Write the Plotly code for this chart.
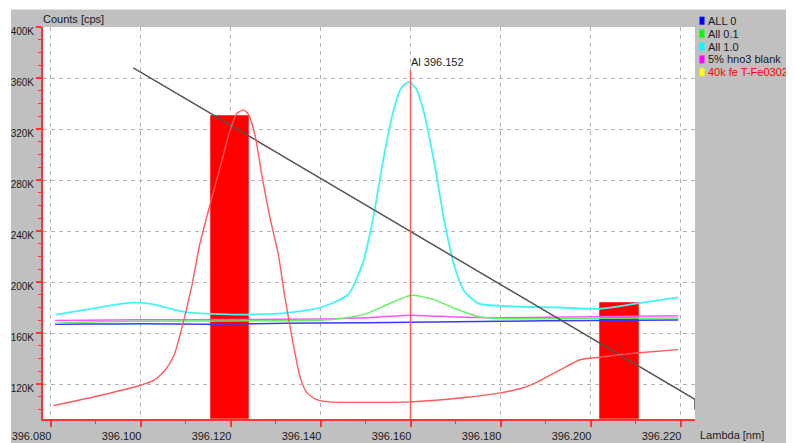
import plotly.graph_objects as go

# ---------------- data ----------------
X_ALL0 = [396.0810, 396.0900, 396.1000, 396.1150, 396.1250, 396.1400, 396.1600, 396.1800, 396.2000, 396.2195]
Y_ALL0 = [166.8, 167.0, 167.2, 166.8, 167.3, 167.8, 168.4, 169.2, 169.8, 170.2]

X_ALL01 = [396.0810, 396.0900, 396.1000, 396.1200, 396.1400, 396.1450, 396.1500, 396.1550, 396.1600,
           396.1650, 396.1700, 396.1750, 396.1800, 396.2000, 396.2195]
Y_ALL01 = [167.5, 168.8, 169.2, 169.5, 170.0, 171.5, 175.0, 182.5, 189.5, 186.5, 179.0, 173.0, 171.3, 171.5, 171.8]

X_ALL10 = [396.0812, 396.0890, 396.0980, 396.1020, 396.1100, 396.1150, 396.1244, 396.1330, 396.1400,
           396.1461, 396.1494, 396.1517, 396.1539, 396.1561, 396.1579, 396.1596, 396.1612, 396.1630,
           396.1652, 396.1674, 396.1697, 396.1719, 396.1752, 396.1820, 396.1932, 396.2020, 396.2108, 396.2195]
Y_ALL10 = [174.4, 179.0, 183.8, 183.0, 176.4, 175.2, 174.5, 176.0, 180.0,
           190.0, 215.0, 250.0, 295.0, 333.0, 352.0, 357.0, 352.0, 333.0,
           295.0, 250.0, 213.0, 193.0, 183.0, 181.0, 180.0, 179.0, 183.5, 188.0]

X_BLANK = [396.0810, 396.1000, 396.1200, 396.1400, 396.1500, 396.1600, 396.1700, 396.1800, 396.2000, 396.2195]
Y_BLANK = [169.8, 170.3, 170.5, 171.0, 172.0, 174.0, 172.5, 172.0, 172.8, 173.5]

X_FE = [396.0806, 396.0910, 396.1000, 396.1030, 396.1055, 396.1075, 396.1092, 396.1114, 396.1132, 396.1157,
        396.1177, 396.1199, 396.1214, 396.1228, 396.1239, 396.1254, 396.1269, 396.1288, 396.1306, 396.1320,
        396.1340, 396.1355, 396.1370, 396.1390, 396.1420, 396.1600, 396.1710, 396.1800, 396.1866, 396.1932,
        396.1977, 396.2021, 396.2066, 396.2108, 396.2195]
Y_FE = [103, 111, 119, 123, 131, 143, 164, 197, 230, 264,
        290, 319, 332, 335, 332, 316, 285, 250, 222, 190,
        150, 125, 113, 108, 106, 106, 109, 113, 119, 131,
        139, 141, 143, 144.5, 147]

X_BACKGROUND = [396.0984, 396.2232, 396.2232]
Y_BACKGROUND = [368, 108, 100]

PEAK_LINE_X = 396.160
PEAK_LINE_TOP = 366
PEAK_LABEL = "Al 396.152"

BAR_START = [396.1157, 396.2022]
BAR_END = [396.1242, 396.2108]
BAR_TOP = [330.4, 183.5]

SERIES_NAMES = ["ALL 0", "All 0.1", "All 1.0", "5% hno3 blank", "40k fe T-Fe0302"]
LEGEND_SWATCH = ["#0000ff", "#00ff00", "#00ffff", "#ff00ff", "#ffff00"]
LEGEND_TEXT_COLOR = ["#1a1a1a", "#1a1a1a", "#1a1a1a", "#1a1a1a", "#ff0000"]

X_TICKS = [396.080, 396.100, 396.120, 396.140, 396.160, 396.180, 396.200, 396.220]
X_TICK_LABELS = ["396.080", "396.100", "396.120", "396.140", "396.160", "396.180", "396.200", "396.220"]
Y_TICKS = [120, 160, 200, 240, 280, 320, 360, 400]
Y_TICK_LABELS = ["120K", "160K", "200K", "240K", "280K", "320K", "360K", "400K"]

X_RANGE = [396.07833, 396.22322]
Y_MIN, Y_MAX = 92.55, 400

# ---------------- figure ----------------
# the page body has an 8px margin, so the figure is drawn 8px smaller and
# every measured page-pixel position is shifted by that offset
OFF = 8
W, H = 794 - OFF, 443 - OFF
ML, MR, MT, MB = 43 - OFF, 99, 27 - OFF, 24
PW, PH = W - ML - MR, H - MT - MB
FONT = "Liberation Sans, Arial, sans-serif"
GRAY = "#c0c0c0"
AXRED = "#ff3333"


def px(x):
    return (x - OFF - ML) / PW


def py(y):
    return (H - MB - (y - OFF)) / PH


fig = go.Figure()

fig.add_trace(go.Bar(
    x=[(a + b) / 2 for a, b in zip(BAR_START, BAR_END)],
    width=[b - a for a, b in zip(BAR_START, BAR_END)],
    y=[t - Y_MIN for t in BAR_TOP], base=Y_MIN,
    marker=dict(color="#ff0000", line=dict(color="#ff4040", width=1)),
    showlegend=False, hoverinfo="skip"))

line_series = [
    (X_ALL0, Y_ALL0, "#3a3aff", 1.5),
    (X_BLANK, Y_BLANK, "#ff55ff", 1.5),
    (X_ALL01, Y_ALL01, "#66ee66", 1.5),
    (X_ALL10, Y_ALL10, "#44f4f4", 1.8),
]
for xs, ys, c, w in line_series:
    fig.add_trace(go.Scatter(x=xs, y=ys, mode="lines",
                             line=dict(color=c, width=w, shape="spline", smoothing=0.6),
                             showlegend=False, hoverinfo="skip"))

fig.add_trace(go.Scatter(x=X_BACKGROUND, y=Y_BACKGROUND, mode="lines",
                         line=dict(color="#555555", width=1.5), showlegend=False, hoverinfo="skip"))

fig.add_trace(go.Scatter(x=X_FE, y=Y_FE, mode="lines",
                         line=dict(color="#ff5a5a", width=1.4, shape="spline", smoothing=0.6),
                         showlegend=False, hoverinfo="skip"))

fig.add_trace(go.Scatter(x=[PEAK_LINE_X, PEAK_LINE_X], y=[Y_MIN, PEAK_LINE_TOP], mode="lines",
                         line=dict(color="#ff5a5a", width=1.5), showlegend=False, hoverinfo="skip"))

annotations = [
    dict(x=PEAK_LINE_X, y=PEAK_LINE_TOP, xref="x", yref="y", text=PEAK_LABEL, showarrow=False,
         xanchor="left", yanchor="bottom", xshift=-1.5, yshift=0,
         font=dict(family=FONT, size=11, color="#1a1a1a")),
    dict(x=px(41), y=py(19), xref="paper", yref="paper", text="Counts [cps]", showarrow=False,
         xanchor="left", yanchor="middle", font=dict(family=FONT, size=11, color="#1a1a1a")),
    dict(x=px(698), y=py(435), xref="paper", yref="paper", text="Lambda [nm]", showarrow=False,
         xanchor="left", yanchor="middle", font=dict(family=FONT, size=11, color="#1a1a1a")),
]

shapes = [
    # remaining white border strips of the screenshot
    dict(type="rect", xref="paper", yref="paper", x0=px(OFF), x1=px(794), y0=py(9.5), y1=py(OFF),
         fillcolor="white", line=dict(width=0), layer="above"),
    dict(type="rect", xref="paper", yref="paper", x0=px(OFF), x1=px(11), y0=py(443), y1=py(OFF),
         fillcolor="white", line=dict(width=0), layer="above"),
]

for i, (name, sw, tc) in enumerate(zip(SERIES_NAMES, LEGEND_SWATCH, LEGEND_TEXT_COLOR)):
    cy = 20.7 + 12.9 * i
    shapes.append(dict(type="rect", xref="paper", yref="paper", x0=px(699.5), x1=px(704.5),
                       y0=py(cy + 4), y1=py(cy - 4), fillcolor=sw, line=dict(width=0), layer="above"))
    annotations.append(dict(x=px(706), y=py(cy), xref="paper", yref="paper", text=name, showarrow=False,
                            xanchor="left", yanchor="middle",
                            font=dict(family=FONT, size=11, color=tc)))

fig.update_layout(
    width=W, height=H,
    margin=dict(l=ML, r=MR, t=MT, b=MB, pad=0, autoexpand=False),
    paper_bgcolor=GRAY, plot_bgcolor="white",
    showlegend=False, bargap=0,
    annotations=annotations, shapes=shapes,
    xaxis=dict(range=X_RANGE, tickvals=X_TICKS, ticktext=X_TICK_LABELS, automargin=False,
               ticks="outside", ticklen=6, tickwidth=1.5, tickcolor=AXRED,
               showline=True, linecolor=AXRED, linewidth=2,
               showgrid=True, gridcolor="#b4b4b4", gridwidth=1, griddash="4px,4px",
               zeroline=False, ticklabelshift=-19,
               tickfont=dict(family=FONT, size=11, color="#1a1a1a"),
               minor=dict(dtick=0.01, tick0=396.08, ticks="outside", ticklen=3,
                          tickcolor=AXRED, tickwidth=1.2, showgrid=False)),
    yaxis=dict(range=[Y_MIN, Y_MAX], tickvals=Y_TICKS, ticktext=Y_TICK_LABELS, automargin=False,
               ticks="outside", ticklen=5, tickwidth=1.5, tickcolor=AXRED,
               showline=True, linecolor=AXRED, linewidth=2,
               showgrid=True, gridcolor="#b4b4b4", gridwidth=1, griddash="4px,4px",
               zeroline=False, ticklabelshift=4,
               tickfont=dict(family=FONT, size=10, color="#1a1a1a"),
               minor=dict(dtick=10, tick0=0, ticks="outside", ticklen=3,
                          tickcolor=AXRED, tickwidth=1.2, showgrid=False)),
)

fig.write_html("out.html")
